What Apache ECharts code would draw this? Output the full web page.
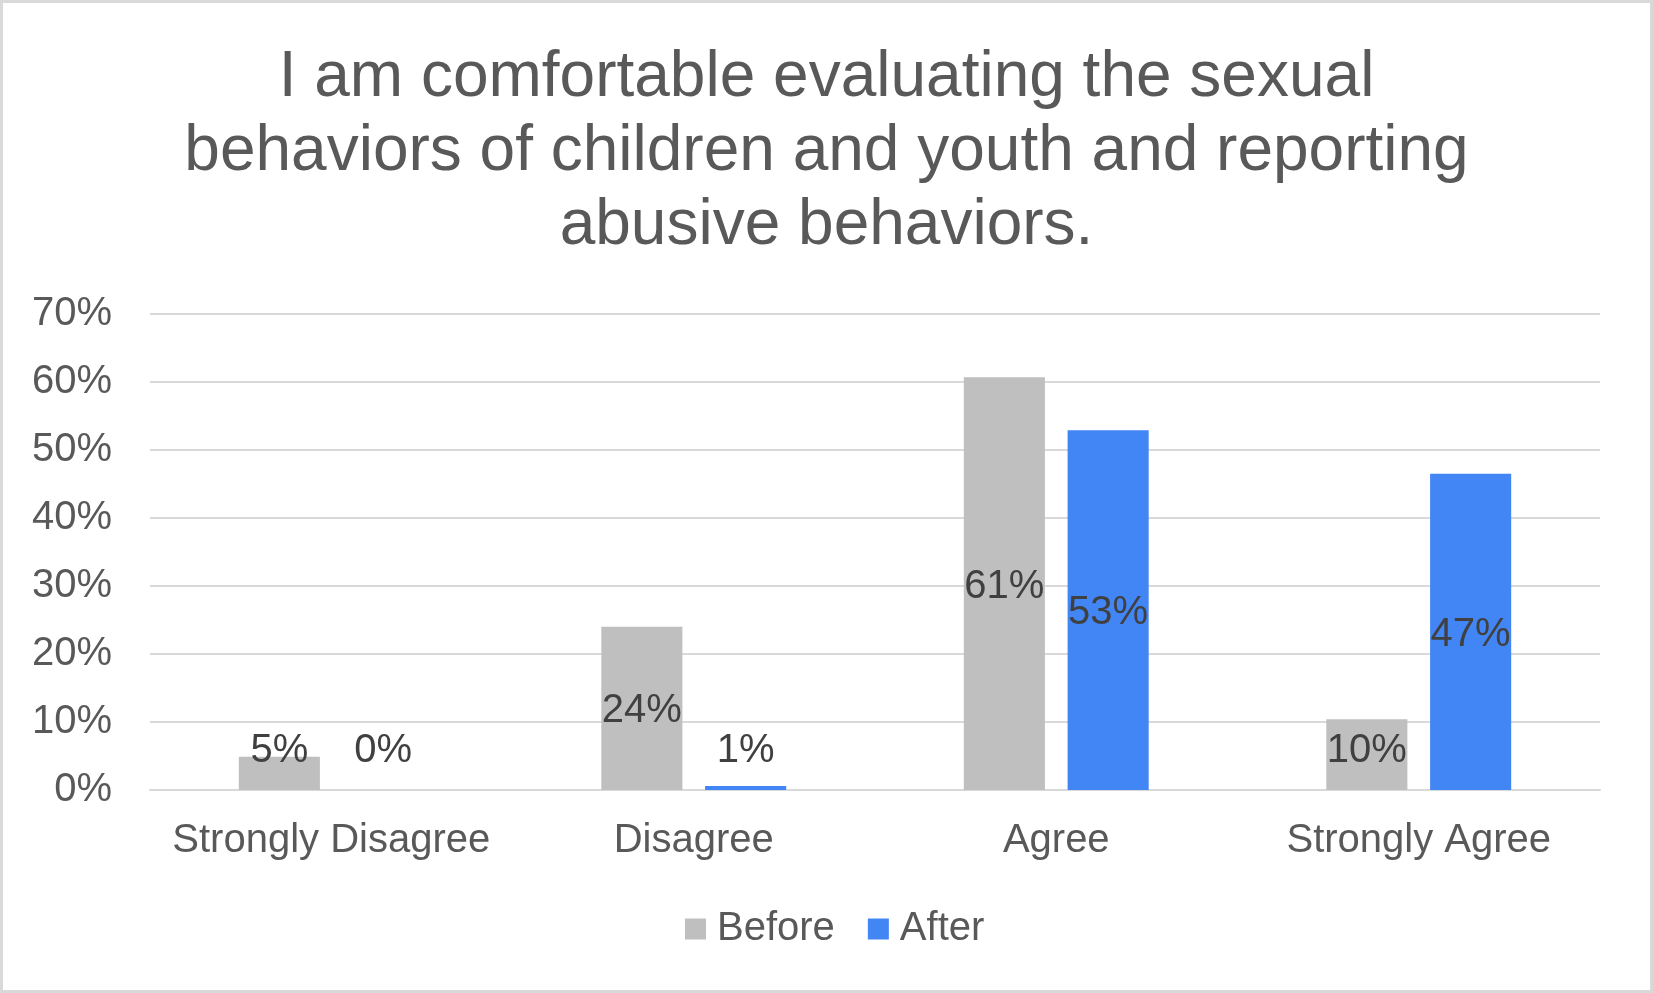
<!DOCTYPE html>
<html>
<head>
<meta charset="utf-8">
<script src="https://cdn.jsdelivr.net/npm/echarts@6/dist/echarts.min.js"></script>
<style>
  html, body { margin: 0; padding: 0; background: #ffffff; }
  #chart { width: 1653px; height: 993px; }
</style>
</head>
<body>
<div id="chart"></div>
<script>
const titleText = 'I am comfortable evaluating the sexual\nbehaviors of children and youth and reporting\nabusive behaviors.';
const categories = ['Strongly Disagree', 'Disagree', 'Agree', 'Strongly Agree'];
const seriesNames = ['Before', 'After'];
const beforeValues = [4.9, 24, 60.7, 10.4];
const afterValues = [0, 0.6, 52.9, 46.5];
const yTicks = [0, 10, 20, 30, 40, 50, 60, 70];

const FONT = '"Liberation Sans", Arial, sans-serif';

function labelFor(v) {
  // small bars: label sits just above the baseline; otherwise centered
  if (v < 13) {
    return { position: 'insideBottom', distance: 19 };
  }
  return { position: 'inside', offset: [0, 3] };
}

function makeData(values) {
  return values.map(v => ({ value: v, label: labelFor(v) }));
}

const chart = echarts.init(document.getElementById('chart'), null, { renderer: 'canvas' });
chart.setOption({
  backgroundColor: '#ffffff',
  animation: false,
  graphic: [{
    type: 'rect',
    shape: { x: 1.5, y: 1.5, width: 1650, height: 990 },
    style: { fill: 'none', stroke: '#d9d9d9', lineWidth: 3 },
    silent: true,
    z: 100
  }],
  title: {
    text: titleText,
    left: 'center',
    top: 41,
    padding: 0,
    textStyle: {
      fontFamily: FONT,
      fontSize: 64,
      fontWeight: 'normal',
      color: '#595959',
      lineHeight: 74
    }
  },
  legend: {
    data: seriesNames,
    left: 685,
    top: 909,
    padding: 0,
    itemWidth: 21,
    itemHeight: 21,
    itemGap: 33,
    icon: 'rect',
    textStyle: {
      fontFamily: FONT,
      fontSize: 40,
      color: '#595959',
      lineHeight: 40,
      padding: [0, 0, 0, 6]
    }
  },
  grid: {
    left: 150,
    right: 53,
    top: 314,
    bottom: 203,
    containLabel: false
  },
  xAxis: {
    type: 'category',
    data: categories,
    axisLine: { show: true, lineStyle: { color: '#d9d9d9', width: 2 } },
    axisTick: { show: false },
    axisLabel: {
      interval: 0,
      fontFamily: FONT,
      fontSize: 40,
      color: '#595959',
      margin: 31,
      lineHeight: 40
    }
  },
  yAxis: {
    type: 'value',
    min: 0,
    max: yTicks[yTicks.length - 1],
    interval: 10,
    axisLine: { show: false },
    axisTick: { show: false },
    splitLine: { show: true, lineStyle: { color: '#d9d9d9', width: 2 } },
    axisLabel: {
      fontFamily: FONT,
      fontSize: 40,
      color: '#595959',
      margin: 38,
      padding: [4, 0, 0, 0],
      formatter: '{value}%'
    }
  },
  series: [
    {
      name: seriesNames[0],
      type: 'bar',
      data: makeData(beforeValues),
      itemStyle: { color: '#bfbfbf' },
      barGap: '28%',
      barCategoryGap: '49%',
      label: {
        show: true,
        fontFamily: FONT,
        fontSize: 40,
        lineHeight: 40,
        color: '#404040',
        formatter: p => Math.round(p.value) + '%'
      }
    },
    {
      name: seriesNames[1],
      type: 'bar',
      data: makeData(afterValues),
      itemStyle: { color: '#4285f4' },
      barGap: '28%',
      barCategoryGap: '49%',
      label: {
        show: true,
        fontFamily: FONT,
        fontSize: 40,
        lineHeight: 40,
        color: '#404040',
        formatter: p => Math.round(p.value) + '%'
      }
    }
  ]
});
</script>
</body>
</html>
